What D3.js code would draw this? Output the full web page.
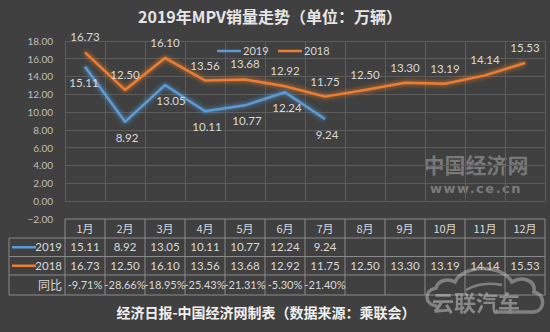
<!DOCTYPE html>
<html><head><meta charset="utf-8">
<script src="https://cdn.jsdelivr.net/npm/d3@7"></script>
<style>
html,body{margin:0;padding:0;background:#404040;}
svg{display:block;}
</style></head>
<body><svg id="c" width="550" height="332"></svg>
<script>
const months = ["1月","2月","3月","4月","5月","6月","7月","8月","9月","10月","11月","12月"];
const sales2019 = [15.11, 8.92, 13.05, 10.11, 10.77, 12.24, 9.24];
const sales2018 = [16.73, 12.50, 16.10, 13.56, 13.68, 12.92, 11.75, 12.50, 13.30, 13.19, 14.14, 15.53];
const yoy = ["-9.71%","-28.66%","-18.95%","-25.43%","-21.31%","-5.30%","-21.40%"];
const yTicks = [-2,0,2,4,6,8,10,12,14,16,18];
const seriesNames = ["2019","2018"];
const titleText = "2019年MPV销量走势（单位：万辆）";
const footerText = "经济日报-中国经济网制表（数据来源：乘联会）";

const W=550,H=332;
const numFont = "Lato, 'Open Sans', sans-serif";
const cjkFont = "'Noto Sans CJK SC', sans-serif";
const C19="#5b9bd5", C18="#ed7d31";
const svg=d3.select("#c");
svg.append("rect").attr("width",W).attr("height",H).attr("fill","#404040");

const defs=svg.append("defs");
function glow(id,color){
  const f=defs.append("filter").attr("id",id).attr("x","-20%").attr("y","-50%").attr("width","140%").attr("height","200%");
  f.append("feGaussianBlur").attr("in","SourceAlpha").attr("stdDeviation",2.6).attr("result","b");
  f.append("feFlood").attr("flood-color",color).attr("flood-opacity",0.55);
  f.append("feComposite").attr("in2","b").attr("operator","in").attr("result","g");
  const m=f.append("feMerge");
  m.append("feMergeNode").attr("in","g");
  m.append("feMergeNode").attr("in","g");
  m.append("feMergeNode").attr("in","SourceGraphic");
}
glow("g19",C19); glow("g18",C18);

const x=d3.scaleBand().domain(months).range([65,545]).padding(0);
const y=d3.scaleLinear().domain([-2,18]).range([219,41]);
const cx=m=>x(m)+x.bandwidth()/2;

// title
svg.append("text").attr("x",270).attr("y",23).attr("text-anchor","middle")
  .attr("font-family",cjkFont).attr("font-weight","bold").attr("font-size",16)
  .attr("fill","#e6e6e6").text(titleText);

// watermark 中国经济网
svg.append("text").attr("x",476).attr("y",173).attr("text-anchor","middle")
  .attr("font-family",cjkFont).attr("font-weight","bold").attr("font-size",21)
  .attr("fill","#8c8c8c").attr("fill-opacity",0.75).text("中国经济网");
svg.append("text").attr("x",476).attr("y",193).attr("text-anchor","middle")
  .attr("font-family","'DejaVu Sans', sans-serif").attr("font-weight","bold").attr("font-size",13)
  .attr("letter-spacing",1.5)
  .attr("fill","#8c8c8c").attr("fill-opacity",0.8).text("www.ce.cn");

// gridlines
const g=svg.append("g");
g.selectAll(".h").data(yTicks.filter(d=>d>=0)).join("line")
  .attr("x1",65).attr("x2",545).attr("y1",d=>y(d)).attr("y2",d=>y(d))
  .attr("stroke","#5c5c5c").attr("stroke-width",1).attr("shape-rendering","crispEdges");
g.selectAll(".v").data(months.concat(["end"])).join("line")
  .attr("x1",(d,i)=>65+i*x.bandwidth()).attr("x2",(d,i)=>65+i*x.bandwidth())
  .attr("y1",y(18)).attr("y2",y(0))
  .attr("stroke","#5c5c5c").attr("stroke-width",1).attr("shape-rendering","crispEdges");

// y axis labels
const yAxis=d3.axisLeft(y).tickValues(yTicks).tickFormat(d3.format(".2f")).tickSize(0).tickPadding(0);
const ya=svg.append("g").attr("transform","translate(53,0)").call(yAxis);
ya.select(".domain").remove();
ya.selectAll("text").attr("font-family",numFont).attr("font-size",10).attr("fill","#bfbfbf");

// lines
const line=d3.line().x((d,i)=>cx(months[i])).y(d=>y(d));
svg.append("path").datum(sales2018).attr("d",line).attr("fill","none")
  .attr("stroke",C18).attr("stroke-width",2.5).attr("stroke-linejoin","round").attr("filter","url(#g18)");
svg.append("path").datum(sales2019).attr("d",line).attr("fill","none")
  .attr("stroke",C19).attr("stroke-width",2.5).attr("stroke-linejoin","round").attr("filter","url(#g19)");

// data labels
svg.append("g").selectAll("text").data(sales2018).join("text")
  .attr("x",(d,i)=>cx(months[i])).attr("y",d=>y(d)-11)
  .attr("text-anchor","middle").attr("font-family",numFont).attr("font-size",11.5)
  .attr("fill","#d9d9d9").text(d=>d.toFixed(2));
svg.append("g").selectAll("text").data(sales2019).join("text")
  .attr("x",(d,i)=>cx(months[i])+(i===2?6:(i===0?-1:2))).attr("y",d=>y(d)+20)
  .attr("text-anchor","middle").attr("font-family",numFont).attr("font-size",11.5)
  .attr("fill","#d9d9d9").text(d=>d.toFixed(2));

// plot legend
const lg=svg.append("g");
[[C19,217,seriesNames[0]],[C18,278,seriesNames[1]]].forEach(([c,lx,t])=>{
  lg.append("line").attr("x1",lx).attr("x2",lx+24).attr("y1",51).attr("y2",51)
    .attr("stroke",c).attr("stroke-width",2.5);
  lg.append("text").attr("x",lx+26).attr("y",55).attr("font-family",numFont)
    .attr("font-size",11).attr("fill","#d9d9d9").text(t);
});

// table
const tb=svg.append("g");
const rows=[219,238,256.5,275,295];
const tStroke="#8a8a8a";
tb.append("line").attr("x1",65).attr("x2",545).attr("y1",rows[0]).attr("y2",rows[0]).attr("stroke",tStroke);
for(let r=1;r<rows.length;r++){
  tb.append("line").attr("x1",9).attr("x2",545).attr("y1",rows[r]).attr("y2",rows[r]).attr("stroke",tStroke);
}
tb.append("line").attr("x1",9).attr("x2",9).attr("y1",rows[1]).attr("y2",rows[4]).attr("stroke",tStroke);
months.forEach((m,i)=>{
  tb.append("line").attr("x1",x(m)).attr("x2",x(m)).attr("y1",rows[0]).attr("y2",rows[4]).attr("stroke",tStroke);
});
tb.append("line").attr("x1",545).attr("x2",545).attr("y1",rows[0]).attr("y2",rows[4]).attr("stroke",tStroke);

const tc="#d9d9d9";
const mid=r=>(rows[r]+rows[r+1])/2+4;
tb.selectAll(".hm").data(months).join("text").attr("x",d=>cx(d)).attr("y",mid(0))
  .attr("text-anchor","middle").attr("font-family",cjkFont).attr("font-size",11).attr("fill",tc).text(d=>d);
tb.selectAll(".r19").data(sales2019).join("text").attr("x",(d,i)=>cx(months[i])).attr("y",mid(1))
  .attr("text-anchor","middle").attr("font-family",numFont).attr("font-size",11.5).attr("fill",tc).text(d=>d.toFixed(2));
tb.selectAll(".r18").data(sales2018).join("text").attr("x",(d,i)=>cx(months[i])).attr("y",mid(2))
  .attr("text-anchor","middle").attr("font-family",numFont).attr("font-size",11.5).attr("fill",tc).text(d=>d.toFixed(2));
tb.selectAll(".ry").data(yoy).join("text").attr("x",(d,i)=>cx(months[i])).attr("y",mid(3))
  .attr("text-anchor","middle").attr("font-family",numFont).attr("font-size",11).attr("fill",tc).text(d=>d);
// row headers
[[C19,seriesNames[0],1],[C18,seriesNames[1],2]].forEach(([c,t,r])=>{
  tb.append("line").attr("x1",12).attr("x2",36).attr("y1",(rows[r]+rows[r+1])/2).attr("y2",(rows[r]+rows[r+1])/2)
    .attr("stroke",c).attr("stroke-width",2.5);
  tb.append("text").attr("x",62).attr("y",mid(r)).attr("text-anchor","end").attr("font-family",numFont)
    .attr("font-size",11.5).attr("fill",tc).text(t);
});
tb.append("text").attr("x",62).attr("y",mid(3)+1).attr("text-anchor","end").attr("font-family",cjkFont)
  .attr("font-size",12).attr("fill",tc).text("同比");

// footer
svg.append("text").attr("x",266).attr("y",318).attr("text-anchor","middle")
  .attr("font-family",cjkFont).attr("font-weight","bold").attr("font-size",14)
  .attr("fill","#f0f0f0").text(footerText);

// watermark 云联汽车
const wm=svg.append("g").attr("opacity",0.5);
wm.append("path").attr("d","M436,306 C424,304 424,290 436,288 C438,280 448,278 455,282 C462,266 500,262 512,282 C522,276 536,280 534,292 C545,294 546,310 534,312 L496,312")
  .attr("fill","none").attr("stroke","#c0c0c0").attr("stroke-width",3.5).attr("stroke-linecap","round");
wm.append("path").attr("d","M466,290 C478,283 492,283 502,285").attr("fill","none").attr("stroke","#c0c0c0").attr("stroke-width",2.5);
wm.append("text").attr("x",476).attr("y",311).attr("text-anchor","middle")
  .attr("font-family",cjkFont).attr("font-weight","bold").attr("font-size",22)
  .attr("fill","#d0d0d0").text("云联汽车");
</script></body></html>
